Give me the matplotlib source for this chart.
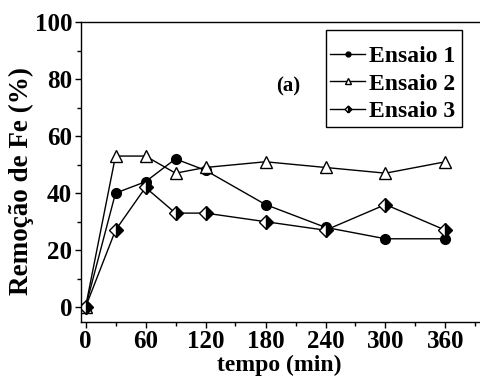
import matplotlib.pyplot as plt
from matplotlib.patches import Rectangle
from matplotlib.ticker import MultipleLocator

plt.rcParams['font.family'] = ['Liberation Serif', 'DejaVu Serif']
plt.rcParams['font.weight'] = 'bold'

tempo = [0, 30, 60, 90, 120, 180, 240, 300, 360]
ensaio1 = [0, 40, 44, 52, 48, 36, 28, 24, 24]
ensaio2 = [0, 53, 53, 47, 49, 51, 49, 47, 51]
ensaio3 = [0, 27, 42, 33, 33, 30, 27, 36, 27]

fig = plt.figure(figsize=(4.81, 3.79), dpi=100)
ax = fig.add_axes([80.5 / 481, 1 - 321.5 / 379, 405 / 481, 299.5 / 379])

ax.plot(tempo, ensaio1, '-o', color='black', lw=1, ms=7, label='Ensaio 1')
ax.plot(tempo, ensaio2, '-^', color='black', lw=1, ms=8, mfc='white',
        label='Ensaio 2')
ax.plot(tempo, ensaio3, '-D', color='black', lw=1, ms=7, fillstyle='right',
        mfc='black', mfcalt='white', label='Ensaio 3')

ax.set_xlim(-5, 400)
ax.set_ylim(-5, 100)
ax.xaxis.set_major_locator(MultipleLocator(60))
ax.xaxis.set_minor_locator(MultipleLocator(30))
ax.yaxis.set_major_locator(MultipleLocator(20))
ax.yaxis.set_minor_locator(MultipleLocator(10))
ax.tick_params(which='major', direction='out', length=4, width=1,
               labelsize=18, pad=2)
ax.tick_params(which='minor', direction='out', length=3, width=1)
for s in ax.spines.values():
    s.set_linewidth(1)

ax.set_xlabel('tempo (min)', fontsize=17, fontweight='bold')
ax.xaxis.label.set_va('center')
ax.xaxis.set_label_coords(0.49, -0.148)
ax.set_ylabel('Remoção de Fe (%)', fontsize=19.5, fontweight='bold')
ax.yaxis.set_label_coords(-0.115, 0.47)

ax.text(203, 77.5, '(a)', fontsize=15, fontweight='bold',
        ha='center', va='center')

# legend entries without frame, box drawn separately
leg = ax.legend(loc='upper left', bbox_to_anchor=(0.616, 0.92), fontsize=17,
                markerscale=0.5, handlelength=1.5, handletextpad=0.15,
                borderpad=0, labelspacing=0.24, frameon=False,
                borderaxespad=0)
ax.add_patch(Rectangle((0.606, 0.649), 0.336, 0.324, transform=ax.transAxes,
                       fill=False, edgecolor='black', lw=1, zorder=5))

fig.savefig('out.png', dpi=100)
